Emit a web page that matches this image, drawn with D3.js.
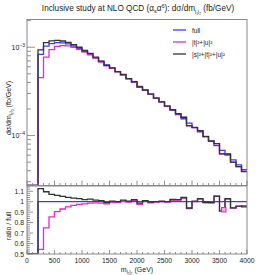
<!DOCTYPE html>
<html><head><meta charset="utf-8">
<script src="https://cdn.jsdelivr.net/npm/d3@7"></script>
<style>html,body{margin:0;padding:0;background:#fff;}svg{display:block;font-family:"Liberation Sans",Arial,sans-serif;}</style>
</head><body>
<script>
// bin lower edges (GeV), width 100
const binEdges = [0,100,200,300,400,500,600,700,800,900,1000,1100,1200,1300,1400,1500,1600,1700,1800,1900,2000,2100,2200,2300,2400,2500,2600,2700,2800,2900,3000,3100,3200,3300,3400,3500,3600,3700,3800,3900];
const fullVals = [0,0,8.3e-4,1.03e-3,1.10e-3,1.13e-3,1.12e-3,1.09e-3,1.03e-3,9.7e-4,9.0e-4,8.3e-4,7.6e-4,6.9e-4,6.3e-4,5.8e-4,5.3e-4,4.85e-4,4.4e-4,4.0e-4,3.6e-4,3.25e-4,2.95e-4,2.65e-4,2.4e-4,2.15e-4,1.93e-4,1.73e-4,1.55e-4,1.38e-4,1.23e-4,1.10e-4,9.8e-5,8.7e-5,7.7e-5,6.8e-5,6.0e-5,5.3e-5,4.65e-5,4.1e-5];
const tuVals = [0,0,4.52e-4,7.73e-4,9.41e-4,1.023e-3,1.042e-3,1.036e-3,9.94e-4,9.46e-4,8.82e-4,8.18e-4,7.52e-4,6.80e-4,6.17e-4,5.77e-4,5.25e-4,4.87e-4,4.38e-4,4.04e-4,3.51e-4,3.27e-4,2.92e-4,2.64e-4,2.40e-4,2.14e-4,1.96e-4,1.756e-4,1.604e-4,1.290e-4,1.230e-4,1.128e-4,9.70e-5,8.61e-5,8.12e-5,6.19e-5,6.15e-5,4.98e-5,4.44e-5,3.94e-5];
const stuVals = [0,0,9.34e-4,1.128e-3,1.177e-3,1.198e-3,1.176e-3,1.134e-3,1.066e-3,9.99e-4,9.18e-4,8.51e-4,7.71e-4,6.97e-4,6.24e-4,5.83e-4,5.30e-4,4.92e-4,4.42e-4,4.08e-4,3.55e-4,3.28e-4,2.94e-4,2.65e-4,2.41e-4,2.15e-4,1.97e-4,1.765e-4,1.612e-4,1.297e-4,1.236e-4,1.133e-4,9.75e-5,8.63e-5,8.09e-5,6.20e-5,6.18e-5,4.99e-5,4.45e-5,3.90e-5];
const seriesNames = ["full","|t|²+|u|²","|s|²+|t|²+|u|²"];
const seriesColors = ["#3a3aff","#e02ad0","#333333"];
const xTicks = [0,500,1000,1500,2000,2500,3000,3500,4000];
const ratioTicks = [0.5,0.6,0.7,0.8,0.9,1,1.1];
const binWidth = 100;

const W=276,H=275;
const svg=d3.select("body").append("svg").attr("width",W).attr("height",H);
const L=27,R=247,T1=19.5,B1=185.5,T2=186,B2=254;
const x=d3.scaleLinear().domain([0,4000]).range([L,R]);
const yU=d3.scaleLog().domain([2.72e-5,2.06e-3]).range([B1,T1]);
const yR=d3.scaleLinear().domain([0.5,1.15]).range([B2,T2]);

function stepPath(vals,ys,lo){
  let p="";
  vals.forEach((v,i)=>{
    const vv=Math.max(v,lo);
    const x0=x(binEdges[i]),x1=x(binEdges[i]+binWidth),yy=ys(vv);
    p+=(i===0?"M":"L")+x0+","+yy+"L"+x1+","+yy;
  });
  return p;
}
// clip
const defs=svg.append("defs");
defs.append("clipPath").attr("id","cu").append("rect").attr("x",L).attr("y",T1).attr("width",R-L).attr("height",B1-T1);
defs.append("clipPath").attr("id","cr").append("rect").attr("x",L).attr("y",T2).attr("width",R-L).attr("height",B2-T2);

// Title
const title=svg.append("text").attr("x",138).attr("y",11).attr("text-anchor","middle").attr("font-size",8.2).attr("fill","#222");
title.append("tspan").text("Inclusive study at NLO QCD (α");
title.append("tspan").attr("font-size",5.5).attr("dy",2).text("s");
title.append("tspan").attr("dy",-2).text("α");
title.append("tspan").attr("font-size",5.5).attr("dy",-3).text("6");
title.append("tspan").attr("dy",3).text("): dσ/dm");
title.append("tspan").attr("font-size",5).attr("dy",2.5).text("l₁l₂");
title.append("tspan").attr("dy",-2.5).text("  (fb/GeV)");

// upper histograms
const gU=svg.append("g").attr("clip-path","url(#cu)");
const allVals=[fullVals,tuVals,stuVals];
allVals.forEach((vals,k)=>{
  gU.append("path").attr("d",stepPath(vals,yU,2.72e-5)).attr("fill","none").attr("stroke",seriesColors[k]).attr("stroke-width",1.3);
});
// lower ratios
const gR=svg.append("g").attr("clip-path","url(#cr)");
allVals.forEach((vals,k)=>{
  const r=vals.map((v,i)=>fullVals[i]>0?v/fullVals[i]:0);
  gR.append("path").attr("d",stepPath(r,yR,0.5)).attr("fill","none").attr("stroke",seriesColors[k]).attr("stroke-width",1.3);
});

// frames
svg.append("rect").attr("x",L).attr("y",T1).attr("width",R-L).attr("height",B1-T1).attr("fill","none").attr("stroke","#888").attr("stroke-width",1);
svg.append("rect").attr("x",L).attr("y",T2).attr("width",R-L).attr("height",B2-T2).attr("fill","none").attr("stroke","#888").attr("stroke-width",1);

// upper x ticks (inside)
const minorX=d3.range(0,4001,100);
minorX.forEach(v=>{
  const major=v%500===0;
  const len=major?5:2.5;
  svg.append("line").attr("x1",x(v)).attr("x2",x(v)).attr("y1",B1).attr("y2",B1-len).attr("stroke","#777").attr("stroke-width",0.8);
  svg.append("line").attr("x1",x(v)).attr("x2",x(v)).attr("y1",B2).attr("y2",B2-len*0.8).attr("stroke","#777").attr("stroke-width",0.8);
});
// upper y log ticks
const logMajor=[1e-4,1e-3];
const logMinor=[];
[1e-5,1e-4,1e-3].forEach(d=>{for(let m=2;m<=9;m++){const v=m*d;if(v>=2.72e-5&&v<=2.06e-3)logMinor.push(v);}});
logMinor.forEach(v=>svg.append("line").attr("x1",L).attr("x2",L+4).attr("y1",yU(v)).attr("y2",yU(v)).attr("stroke","#777").attr("stroke-width",0.8));
logMajor.forEach(v=>{
  svg.append("line").attr("x1",L).attr("x2",L+8).attr("y1",yU(v)).attr("y2",yU(v)).attr("stroke","#777").attr("stroke-width",0.8);
  const t=svg.append("text").attr("x",L-2).attr("y",yU(v)+2.5).attr("text-anchor","end").attr("font-size",7).attr("fill","#222");
  t.append("tspan").text("10");
  t.append("tspan").attr("font-size",5).attr("dy",-3).text("−"+Math.round(-Math.log10(v)));
});
// ratio y ticks
d3.range(0.5,1.151,0.02).forEach(v=>{
  const major=Math.abs(Math.round(v*10)-v*10)<1e-6;
  svg.append("line").attr("x1",L).attr("x2",L+(major?6:3)).attr("y1",yR(v)).attr("y2",yR(v)).attr("stroke","#777").attr("stroke-width",0.8);
});
ratioTicks.forEach(v=>{
  svg.append("text").attr("x",L-3).attr("y",yR(v)+2.5).attr("text-anchor","end").attr("font-size",6.8).attr("fill","#222").text(d3.format("~g")(v));
});
// x labels
xTicks.forEach(v=>{
  svg.append("text").attr("x",x(v)).attr("y",263).attr("text-anchor","middle").attr("font-size",6.8).attr("fill","#222").text(v);
});
// x title
const xt=svg.append("text").attr("x",137).attr("y",272).attr("text-anchor","middle").attr("font-size",7).attr("fill","#222");
xt.append("tspan").text("m");
xt.append("tspan").attr("font-size",5).attr("dy",2).text("l₁l₂");
xt.append("tspan").attr("dy",-2).text(" (GeV)");
// y titles
const yt=svg.append("text").attr("transform","translate(11,108) rotate(-90)").attr("text-anchor","middle").attr("font-size",7).attr("fill","#222");
yt.append("tspan").text("dσ/dm");
yt.append("tspan").attr("font-size",5).attr("dy",2).text("l₁l₂");
yt.append("tspan").attr("dy",-2).text("  (fb/GeV)");
svg.append("text").attr("transform","translate(11,226) rotate(-90)").attr("text-anchor","middle").attr("font-size",7).attr("fill","#222").text("ratio / full");

// legend
const legY=[30,42,54];
seriesNames.forEach((n,k)=>{
  svg.append("line").attr("x1",173).attr("x2",186).attr("y1",legY[k]).attr("y2",legY[k]).attr("stroke",seriesColors[k]).attr("stroke-width",1.3);
  svg.append("text").attr("x",192).attr("y",legY[k]+2.5).attr("font-size",6.5).attr("fill","#222").text(n);
});
// small marker in ratio panel
svg.append("rect").attr("x",221.5).attr("y",207.5).attr("width",4.5).attr("height",4.5).attr("fill","#f4a6ec").attr("stroke",seriesColors[1]).attr("stroke-width",1);
</script>
</body></html>
